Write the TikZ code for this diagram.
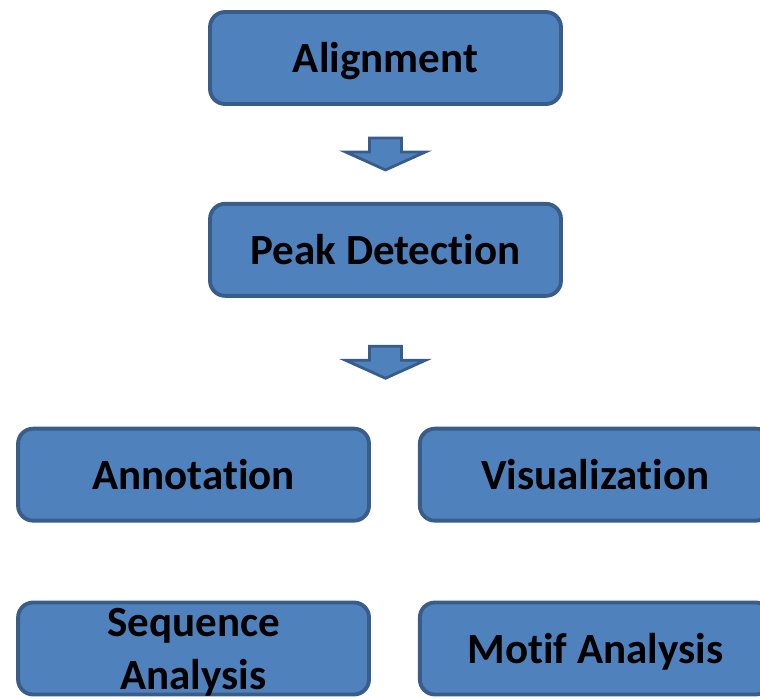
\documentclass[tikz,border=0pt]{standalone}
\usepackage{fontspec}
\setmainfont{Carlito}[Ligatures={NoCommon,NoContextual}, Contextuals=NoAlternate]
\usetikzlibrary{positioning}

\definecolor{boxblue}{HTML}{4F81BD}
\definecolor{edgeblue}{HTML}{385D8A}

\tikzset{
	stage/.style={draw=edgeblue, fill=boxblue, line width=2.2pt, rounded corners=0.3cm,
		minimum width=7.02cm, minimum height=1.84cm, align=center,
		text height=19pt, text depth=2pt,
		font=\fontsize{24.5}{30}\selectfont\bfseries},
	downarrow/.pic={
		\draw[draw=edgeblue, fill=boxblue, line width=1.6pt]
			(-16,-16) -- (16,-16) -- (16,-2) -- (40,-2) -- (0,16) -- (-40,-2) -- (-16,-2) -- cycle;
	}
}

\begin{document}
\begin{tikzpicture}[x=0.02cm, y=-0.02cm]
	\useasboundingbox (0,0) rectangle (760,698);
	\clip (0,0) rectangle (760,698);
	\node[stage] (align) at (385.5,58) {Alignment};
	\node[stage] (peak) [below=1.92cm of align] {Peak Detection};
	\node[stage] (annot) [below=2.58cm of peak.south, xshift=-3.84cm] {Annotation};
	\node[stage] (visual) [right=0.94cm of annot] {Visualization};
	\node[stage, inner ysep=0pt, text height=47pt, text depth=0.4pt] (seq) [below=1.56cm of annot] {Sequence\\Analysis};
	\node[stage] (motif) [right=0.94cm of seq] {Motif Analysis};
	% block arrows between the stages
	\path (align.south) -- (peak.north) coordinate[midway] (m1);
	\path (peak.south) -- (peak.south |- annot.north) coordinate[midway] (m2);
	\pic at (m1) {downarrow};
	\pic at (m2) {downarrow};
\end{tikzpicture}
\end{document}
